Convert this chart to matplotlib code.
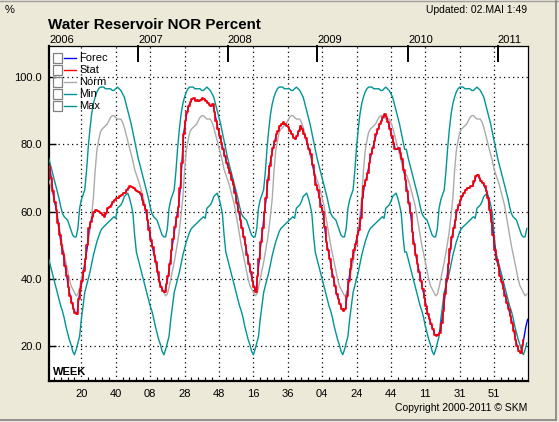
import numpy as np
import matplotlib
matplotlib.use('Agg')
import matplotlib.pyplot as plt
import matplotlib.transforms as mtransforms
from matplotlib.patches import Rectangle
from matplotlib.lines import Line2D

plt.rcParams['font.family'] = ['Liberation Sans', 'DejaVu Sans']

# --- data ---
years = ['2006', '2007', '2008', '2009', '2010', '2011']
weeks_in_year = [52, 52, 52, 53, 52, 18]
week_labels = ['20', '40', '08', '28', '48', '16', '36', '04', '24', '44', '11', '31', '51']

# yearly profiles, week 1..52
norm_profile = [69.5, 68, 66, 64, 62, 59, 56, 53, 50, 47.5, 45, 42.5, 40, 38, 37, 36, 35, 35.5,
                37.5, 40, 42.5, 45, 48, 51, 54.5, 59, 64, 72, 78, 81, 83.5, 84.5, 85, 85.5, 86,
                87, 88, 88.5, 88.5, 88, 87.5, 87.5, 87.5, 86.5, 85, 83, 81, 79, 77, 75, 72.5, 71]
min_profile = [46, 44, 42, 40, 38, 36, 34, 32, 30.5, 28.5, 26, 24, 22, 20.5, 18.5, 17.5, 19, 21,
               23, 28, 32, 36, 38, 40, 42, 44.5, 47, 49, 51, 52.5, 54, 55, 55.5, 56, 56.5, 57,
               57.5, 58, 58.5, 58, 61, 61.5, 62, 63, 64.5, 65, 65.5, 64, 62, 59.5, 53, 48]
max_profile = [76, 74, 72, 70, 68, 66, 64, 61.5, 59.5, 58.5, 58, 57.5, 56, 54.5, 53, 52.5, 52.5, 55,
               61, 63.5, 65, 66.5, 72, 79, 84.5, 89, 92, 94, 95.5, 96.5, 97, 97, 97, 96.5, 96.5,
               96.5, 96.5, 96, 96, 96.5, 97, 96.5, 96, 95, 94, 92, 90, 88, 86, 83.5, 81, 78.5]

stat_2006 = [73.5, 70, 66, 63, 60.5, 56.5, 53, 50, 47.5, 44, 41, 37.5, 35, 33, 31, 30, 29.5, 34,
             37, 39.5, 42.5, 46, 50, 55, 57, 58.5, 60, 60.5, 60.2, 60, 59.5, 59, 58.5, 59.5, 61,
             61.5, 62, 63, 63.5, 64, 64, 64.5, 65, 65.5, 65.5, 66.5, 67, 67.5, 67.3, 67, 66.5, 66]
stat_2007 = [65.8, 65.3, 63.5, 62, 60.5, 57.5, 54.5, 51.5, 49.5, 47, 45, 42, 39, 37.5, 36.5, 36,
             38.5, 41, 44.5, 48.5, 52, 55.5, 58.5, 61.5, 67, 74.5, 83, 87, 89.5, 91.5, 92.5, 93.5,
             93.7, 93, 93.2, 92.8, 93.3, 93.7, 93.4, 93, 92.4, 91.7, 91.4, 92, 89.5, 87, 84.5,
             82.5, 80.5, 78.5, 76.5, 74.5]
stat_2008 = [73, 71.5, 69.5, 68, 65.5, 62.5, 60, 57.5, 55, 52.5, 50, 47, 44.5, 42, 39.5, 37.5, 36,
             41, 46, 51, 55, 60, 64, 69.5, 73.5, 76.5, 79, 81, 83, 84, 85.5, 86, 86.5, 86, 85.5,
             85, 84, 83, 82, 81.5, 82.5, 84, 85.5, 84.5, 83, 82, 80, 78.5, 77, 74, 71, 68]
stat_2009 = [66.5, 64, 61.5, 60, 55.5, 51, 48.5, 46, 43, 40.5, 38, 35.5, 34, 32.5, 31, 30.5, 31,
             35, 39.5, 43, 46, 48.5, 50.5, 53, 54.5, 58, 64, 67.5, 69.5, 71.5, 74.5, 77, 79, 81,
             83, 84.5, 86, 87, 88, 89, 88, 86.5, 84.5, 82.5, 80.5, 78.5, 78.5, 79, 77.5, 75.5,
             72.5, 69.5, 66]
stat_2010 = [62.5, 59.5, 54, 50.5, 47, 44.5, 42, 39.5, 37, 34.5, 32, 29.5, 28, 26.5, 25, 23.5,
             23.2, 23.5, 24, 27, 30.5, 35.5, 40, 44.5, 49, 52.5, 55, 57.5, 60.5, 62, 63.5, 64.5,
             65.5, 66.5, 67, 67, 67.5, 67.5, 69, 70.5, 71, 70, 69, 68.5, 67.5, 66, 64, 60.5, 57,
             53, 48.5, 45.5]
stat_2011 = [44, 41, 39, 37, 35, 33, 31, 29, 27, 24.5, 22, 20, 18.5, 18, 20.5, 22]
forec_2011 = [44, 41, 39, 37, 35, 33, 31, 29, 27, 24.5, 22, 20, 18.5, 18, 20, 23, 26, 28]

stat = stat_2006 + stat_2007 + stat_2008 + stat_2009 + stat_2010 + stat_2011
forec = stat_2006 + stat_2007 + stat_2008 + stat_2009 + stat_2010 + forec_2011


def seasonal(profile):
    out = []
    for n in weeks_in_year:
        p = list(profile) + [profile[-1]]
        out.extend(p[:n])
    return np.array(out)


norm = seasonal(norm_profile)
vmin = seasonal(min_profile)
vmax = seasonal(max_profile)
xs = np.arange(len(norm))
year_start = np.concatenate([[0], np.cumsum(weeks_in_year)[:-1]])

# --- figure ---
W, H = 559, 422
BG = '#ECE9D8'
TEAL = '#009494'
GREY = '#ABABAB'

fig = plt.figure(figsize=(W / 100, H / 100), dpi=100, facecolor=BG)


def fx(px):
    return px / W


def fy(py):
    return 1 - py / H


ax = fig.add_axes([fx(49), fy(381), fx(528) - fx(49), fy(46) - fy(381)])
ax.set_facecolor('white')

ax.plot(xs, vmax, color=TEAL, lw=1.0, zorder=3)
ax.plot(xs, vmin, color=TEAL, lw=1.0, zorder=3)
ax.plot(xs, norm, color=GREY, lw=1.0, zorder=3)
ax.plot(np.arange(len(forec)) + 0.5, forec, color='blue', lw=1.0, zorder=4)
ax.plot(np.arange(len(stat)), stat, color='red', lw=1.2, drawstyle='steps-post', zorder=5)

ax.set_xlim(0.2, 278.7)
ax.set_ylim(9.7, 109.2)

major = 19 + 20 * np.arange(len(week_labels))
ax.set_xticks(major)
ax.set_xticklabels(week_labels)
ax.set_xticks(np.arange(3, 279, 4), minor=True)
ax.set_yticks([20, 40, 60, 80, 100])
ax.set_yticklabels(['20.0', '40.0', '60.0', '80.0', '100.0'])
ax.tick_params(axis='x', which='major', direction='in', length=0, pad=6, labelsize=8)
ax.tick_params(axis='x', which='minor', direction='in', length=3, width=0.8)
ax.tick_params(axis='y', direction='in', length=5, width=1, pad=5, labelsize=8)
ax.grid(True, which='major', color='black', linestyle=(0, (1, 2.6)), lw=0.9)

for side in ['left', 'bottom']:
    ax.spines[side].set_linewidth(1.6)
for side in ['top', 'right']:
    ax.spines[side].set_linewidth(0.9)

# year markers on top
trans = mtransforms.blended_transform_factory(ax.transData, ax.transAxes)
for i, yr in enumerate(years):
    xpos = max(year_start[i], 0.2)
    ax.text(xpos, 1.004, yr, transform=trans, ha='left', va='bottom', fontsize=8)
    if i > 0:
        ax.plot([year_start[i]] * 2, [1.0, 0.955], transform=trans, color='black',
                lw=1.4, clip_on=False, zorder=6)

ax.text(0.008, 0.012, 'WEEK', transform=ax.transAxes, fontsize=8, fontweight='bold',
        ha='left', va='bottom')

# legend with check boxes
leg_names = ['Forec', 'Stat', 'Norm', 'Min', 'Max']
leg_colors = ['blue', 'red', GREY, TEAL, TEAL]
for i, (name, col) in enumerate(zip(leg_names, leg_colors)):
    yc = 58 + 12 * i
    fig.add_artist(Rectangle((fx(53), fy(yc + 4.5)), 9 / W, 9 / H, transform=fig.transFigure,
                             facecolor='none', edgecolor='#808080', lw=0.9, zorder=10))
    fig.add_artist(Line2D([fx(64), fx(76)], [fy(yc), fy(yc)], color=col, lw=1.0, zorder=10))
    fig.text(fx(79), fy(yc), name, fontsize=8, ha='left', va='center', zorder=10)

# texts
fig.text(fx(5), fy(10), '%', fontsize=8, ha='left', va='center')
fig.text(fx(527), fy(10), 'Updated: 02.MAI 1:49', fontsize=7.5, ha='right', va='center')
fig.text(fx(48), fy(25), 'Water Reservoir NOR Percent', fontsize=10.9, fontweight='bold',
         ha='left', va='center')
fig.text(fx(527), fy(408), 'Copyright 2000-2011 \u00a9 SKM', fontsize=7.5, ha='right',
         va='center')

# window frame lines
fig.add_artist(Line2D([0, 1], [fy(1), fy(1)], color='#A0A0A0', lw=1))
fig.add_artist(Line2D([0, fx(556)], [fy(419.5), fy(419.5)], color='#808080', lw=1.2))
fig.add_artist(Line2D([fx(556), fx(556)], [fy(1), fy(419.5)], color='#808080', lw=1.2))

fig.savefig('out.png', dpi=100, facecolor=BG)
